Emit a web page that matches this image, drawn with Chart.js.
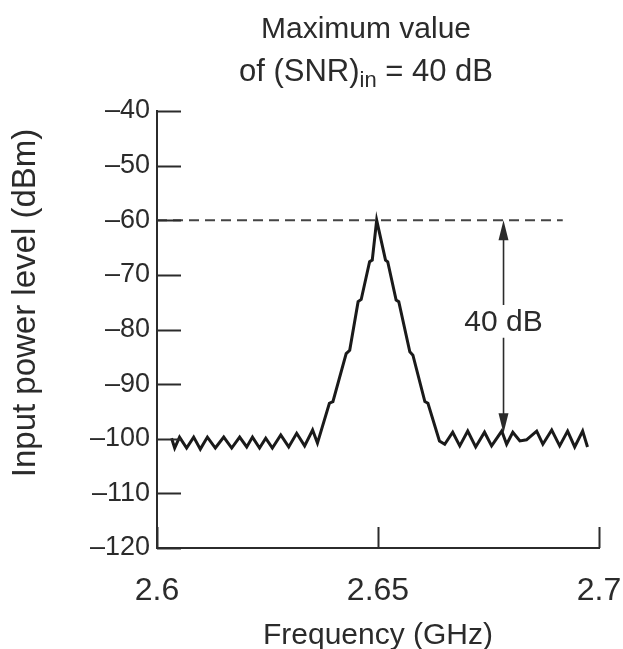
<!DOCTYPE html>
<html>
<head>
<meta charset="utf-8">
<script src="https://cdn.jsdelivr.net/npm/chart.js@4.4.0/dist/chart.umd.min.js"></script>
<style>
    html, body { margin: 0; padding: 0; background: #fff; }
    #wrap { width: 623px; height: 649px; }
</style>
</head>
<body>
<div id="wrap"><canvas id="canvas" width="623" height="649"></canvas></div>
<script>
// spectrum trace
var freqs = [
    2.6033, 2.6040, 2.6051, 2.6067, 2.6083, 2.6098, 2.6114, 2.6132, 2.6151, 2.6169, 2.6187,
    2.6203, 2.6216, 2.6232, 2.6246, 2.6261, 2.6280, 2.6298, 2.6316, 2.6334, 2.6352, 2.6363,
    2.6390, 2.6398, 2.6428, 2.6436, 2.6455, 2.6462, 2.6481, 2.6487, 2.6497,
    2.6517, 2.6522, 2.6541, 2.6547, 2.6572, 2.6579, 2.6606, 2.6613, 2.6639,
    2.6651, 2.6669, 2.6685, 2.6703, 2.6721, 2.6741, 2.6757, 2.6780, 2.6791, 2.6805,
    2.6821, 2.6836, 2.6859, 2.6873, 2.6893, 2.6911, 2.6929, 2.6945, 2.6963, 2.6974
];
var levels = [
    -99.9, -101.7, -99.7, -101.7, -99.7, -101.9, -99.7, -101.7, -99.7, -101.7, -99.7,
    -101.5, -99.7, -101.7, -99.9, -101.7, -99.3, -101.5, -99.0, -101.3, -98.4, -100.8,
    -93.5, -93.2, -84.4, -83.8, -74.9, -74.5, -67.6, -67.3, -60,
    -67.3, -67.6, -74.6, -74.9, -84.1, -84.7, -93.2, -93.5, -100.4,
    -101.0, -98.8, -101.3, -98.6, -101.5, -98.8, -101.3, -98.6, -101.0, -98.8,
    -100.4, -100.2, -98.6, -101.0, -98.4, -101.3, -98.6, -101.5, -98.6, -101.5
];

var xTicks = [2.6, 2.65, 2.7];
var yTicks = [-120, -110, -100, -90, -80, -70, -60, -50, -40];

// dashed reference at the peak level, and the 40 dB arrow
var refFreqs = [2.6, 2.6918];
var refLevels = [-60, -60];
var arrowFreq = 2.6784;
var arrowTop = -60;
var arrowBottom = -99;
var arrowGap = [-75.5, -81.5];
var arrowText = '40 dB';

var xTitle = 'Frequency (GHz)';
var yTitle = 'Input power level (dBm)';

var ink = '#2b2b2b';
var fontFamily = "'Liberation Sans', Arial, sans-serif";

function minus(v) {
    return String(v).replace('-', '\u2013');
}

var frame = {
    id: 'frame',
    afterDatasetsDraw: function (chart) {
        var ctx = chart.ctx,
            xs = chart.scales.x,
            ys = chart.scales.y,
            area = chart.chartArea;
        ctx.save();
        ctx.strokeStyle = ink;
        ctx.lineWidth = 2;
        // inward tick marks
        yTicks.forEach(function (v) {
            var py = Math.round(ys.getPixelForValue(v)) + 0.5;
            ctx.beginPath();
            ctx.moveTo(area.left, py);
            ctx.lineTo(area.left + 24, py);
            ctx.stroke();
        });
        xTicks.forEach(function (v) {
            var px = Math.round(xs.getPixelForValue(v)) + 0.5;
            ctx.beginPath();
            ctx.moveTo(px, area.bottom);
            ctx.lineTo(px, area.bottom - 21);
            ctx.stroke();
        });

        // double arrow with label
        var ax = xs.getPixelForValue(arrowFreq),
            aTop = ys.getPixelForValue(arrowTop),
            aBot = ys.getPixelForValue(arrowBottom),
            g1 = ys.getPixelForValue(arrowGap[0]),
            g2 = ys.getPixelForValue(arrowGap[1]);
        ctx.lineWidth = 1.6;
        ctx.beginPath();
        ctx.moveTo(ax, aTop + 10);
        ctx.lineTo(ax, g1);
        ctx.moveTo(ax, g2);
        ctx.lineTo(ax, aBot - 10);
        ctx.stroke();
        ctx.fillStyle = ink;
        ctx.beginPath();
        ctx.moveTo(ax, aTop);
        ctx.lineTo(ax - 5, aTop + 20);
        ctx.lineTo(ax + 5, aTop + 20);
        ctx.closePath();
        ctx.fill();
        ctx.beginPath();
        ctx.moveTo(ax, aBot);
        ctx.lineTo(ax - 5, aBot - 20);
        ctx.lineTo(ax + 5, aBot - 20);
        ctx.closePath();
        ctx.fill();

        ctx.font = '30px ' + fontFamily;
        ctx.textAlign = 'center';
        ctx.textBaseline = 'middle';
        ctx.fillText(arrowText, ax, (g1 + g2) / 2 + 1);

        // axis titles
        ctx.fillText(xTitle, (area.left + area.right) / 2, 636);
        ctx.save();
        ctx.font = '33px ' + fontFamily;
        ctx.translate(26, 303);
        ctx.rotate(-Math.PI / 2);
        ctx.fillText(yTitle, 0, 0);
        ctx.restore();

        // title with subscript
        ctx.font = '30px ' + fontFamily;
        ctx.fillText('Maximum value', 366, 30);
        var big = '31px ' + fontFamily,
            small = '22px ' + fontFamily,
            a = 'of (SNR)', b = 'in', c = ' = 40 dB';
        ctx.font = big;
        var wa = ctx.measureText(a).width, wc = ctx.measureText(c).width;
        ctx.font = small;
        var wb = ctx.measureText(b).width;
        var x0 = 366 - (wa + wb + wc) / 2;
        ctx.textAlign = 'left';
        ctx.textBaseline = 'alphabetic';
        ctx.font = big;
        ctx.fillText(a, x0, 81);
        ctx.font = small;
        ctx.fillText(b, x0 + wa, 87);
        ctx.font = big;
        ctx.fillText(c, x0 + wa + wb, 81);
        ctx.restore();
    }
};

const chart = new Chart(document.getElementById('canvas').getContext('2d'), {
    type: 'scatter',
    data: {
        datasets: [
            {
                data: freqs.map(function (f, i) { return {x: f, y: levels[i]}; }),
                showLine: true,
                borderColor: '#1a1a1a',
                borderWidth: 3,
                pointRadius: 0,
                tension: 0,
                borderJoinStyle: 'miter'
            },
            {
                data: refFreqs.map(function (f, i) { return {x: f, y: refLevels[i]}; }),
                showLine: true,
                borderColor: '#444',
                borderWidth: 2,
                borderDash: [10, 6],
                pointRadius: 0
            }
        ]
    },
    options: {
        responsive: false,
        animation: false,
        layout: {
            padding: {top: 111, right: 24, bottom: 0, left: 0}
        },
        plugins: {
            legend: {display: false},
            title: {display: false},
            tooltip: {enabled: false}
        },
        scales: {
            x: {
                type: 'linear',
                min: 2.6,
                max: 2.7,
                afterBuildTicks: function (scale) {
                    scale.ticks = xTicks.map(function (v) { return {value: v}; });
                },
                afterFit: function (scale) {
                    scale.height = 101;
                    scale.paddingLeft = 0;
                    scale.paddingRight = 0;
                },
                grid: {display: false, drawTicks: false},
                border: {display: true, color: ink, width: 2},
                ticks: {
                    color: ink,
                    padding: 24,
                    maxRotation: 0,
                    font: {family: fontFamily, size: 32},
                    callback: function (v) { return String(v); }
                }
            },
            y: {
                type: 'linear',
                min: -120,
                max: -40,
                afterBuildTicks: function (scale) {
                    scale.ticks = yTicks.map(function (v) { return {value: v}; });
                },
                afterFit: function (scale) {
                    scale.width = 157;
                    scale.paddingTop = 0;
                    scale.paddingBottom = 0;
                },
                grid: {display: false, drawTicks: false},
                border: {display: true, color: ink, width: 2},
                ticks: {
                    color: ink,
                    padding: 7,
                    font: {family: fontFamily, size: 27},
                    callback: function (v) { return minus(v); }
                }
            }
        }
    },
    plugins: [frame]
});
</script>
</body>
</html>
